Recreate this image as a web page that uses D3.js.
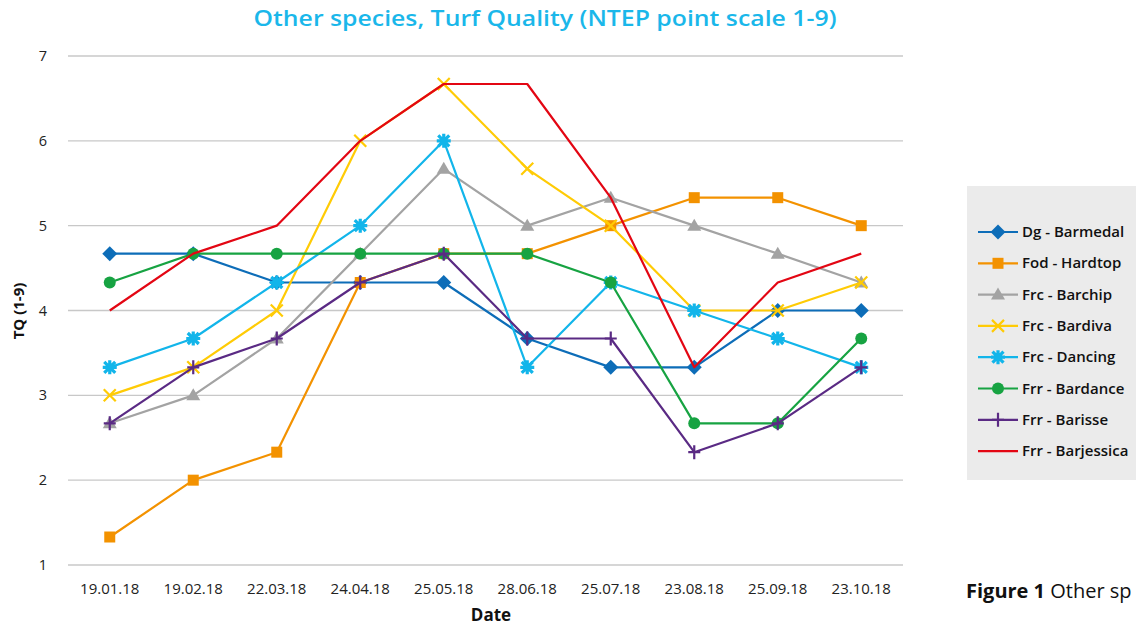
<!DOCTYPE html>
<html><head><meta charset="utf-8">
<script src="https://cdn.jsdelivr.net/npm/d3@7"></script>
<style>body{margin:0;background:#fff;}svg{display:block;font-family:"Open Sans",Lato,sans-serif;}</style>
</head><body>
<svg id="c" width="1136" height="629"></svg>
<script>
const categories = ["19.01.18","19.02.18","22.03.18","24.04.18","25.05.18","28.06.18","25.07.18","23.08.18","25.09.18","23.10.18"];
const seriesNames = ["Dg - Barmedal","Fod - Hardtop","Frc - Barchip","Frc - Bardiva","Frc - Dancing","Frr - Bardance","Frr - Barisse","Frr - Barjessica"];
const dgBarmedal   = [4.67,4.67,4.33,4.33,4.33,3.67,3.33,3.33,4.00,4.00];
const fodHardtop   = [1.33,2.00,2.33,4.33,4.67,4.67,5.00,5.33,5.33,5.00];
const frcBarchip   = [2.67,3.00,3.67,4.67,5.67,5.00,5.33,5.00,4.67,4.33];
const frcBardiva   = [3.00,3.33,4.00,6.00,6.67,5.67,5.00,4.00,4.00,4.33];
const frcDancing   = [3.33,3.67,4.33,5.00,6.00,3.33,4.33,4.00,3.67,3.33];
const frrBardance  = [4.33,4.67,4.67,4.67,4.67,4.67,4.33,2.67,2.67,3.67];
const frrBarisse   = [2.67,3.33,3.67,4.33,4.67,3.67,3.67,2.33,2.67,3.33];
const frrBarjessica= [4.00,4.67,5.00,6.00,6.67,6.67,5.33,3.33,4.33,4.67];
const yTicks = [1,2,3,4,5,6,7];

const values = [dgBarmedal,fodHardtop,frcBarchip,frcBardiva,frcDancing,frrBardance,frrBarisse,frrBarjessica];
const colors = ["#0d6db8","#f39200","#a3a3a3","#ffcb05","#12b5ea","#17a342","#5a2a84","#e30613"];
const markers = ["diamond","square","triangle","x","star","circle","plus","none"];

const svg = d3.select("#c");
const m = {l:68, r:903, t:56, b:565};
const x = d3.scaleBand().domain(categories).range([m.l,m.r]).padding(0);
const y = d3.scaleLinear().domain([1,7]).range([m.b,m.t]);

// title
svg.append("text").attr("x",545).attr("y",26).attr("text-anchor","middle")
  .attr("font-size",22).attr("font-weight","600").attr("fill","#1ab7ea")
  .attr("textLength",583).attr("lengthAdjust","spacingAndGlyphs")
  .text("Other species, Turf Quality (NTEP point scale 1-9)");

// gridlines
svg.append("g").selectAll("line").data(yTicks).join("line")
  .attr("x1",m.l).attr("x2",m.r).attr("y1",d=>y(d)).attr("y2",d=>y(d))
  .attr("stroke","#c8c8c8").attr("stroke-width",1.3);

// y tick labels
svg.append("g").selectAll("text").data(yTicks).join("text")
  .attr("x",47).attr("y",d=>y(d)+5).attr("text-anchor","end")
  .attr("font-size",14.5).attr("fill","#222").text(d=>d);

// x tick labels
svg.append("g").selectAll("text").data(categories).join("text")
  .attr("x",d=>x(d)+x.bandwidth()/2).attr("y",594).attr("text-anchor","middle")
  .attr("font-size",15).attr("fill","#222").text(d=>d);

svg.append("text").attr("x",491).attr("y",621).attr("text-anchor","middle")
  .attr("font-size",17).attr("font-weight","bold").attr("fill","#111").text("Date");
svg.append("text").attr("transform","translate(24,311) rotate(-90)").attr("text-anchor","middle")
  .attr("font-size",15).attr("font-weight","bold").attr("fill","#111").text("TQ (1-9)");

const line = d3.line().x((d,i)=>x(categories[i])+x.bandwidth()/2).y(d=>y(d));

function drawMarker(g, type, cx, cy, color){
  if(type==="diamond"){
    g.append("path").attr("d",`M${cx},${cy-7.5}L${cx+7.5},${cy}L${cx},${cy+7.5}L${cx-7.5},${cy}Z`).attr("fill",color);
  } else if(type==="square"){
    g.append("rect").attr("x",cx-5.5).attr("y",cy-5.5).attr("width",11).attr("height",11).attr("fill",color);
  } else if(type==="triangle"){
    g.append("path").attr("d",`M${cx},${cy-7}L${cx+7},${cy+5}L${cx-7},${cy+5}Z`).attr("fill",color);
  } else if(type==="x"){
    g.append("path").attr("d",`M${cx-6},${cy-6}L${cx+6},${cy+6}M${cx-6},${cy+6}L${cx+6},${cy-6}`).attr("stroke",color).attr("stroke-width",2.2);
  } else if(type==="star"){
    g.append("path").attr("d",`M${cx-5.5},${cy-5.5}L${cx+5.5},${cy+5.5}M${cx-5.5},${cy+5.5}L${cx+5.5},${cy-5.5}M${cx},${cy-7}L${cx},${cy+7}M${cx-7},${cy}L${cx+7},${cy}`).attr("stroke",color).attr("stroke-width",3.2);
  } else if(type==="circle"){
    g.append("circle").attr("cx",cx).attr("cy",cy).attr("r",6).attr("fill",color);
  } else if(type==="plus"){
    g.append("path").attr("d",`M${cx},${cy-7}L${cx},${cy+7}M${cx-6},${cy}L${cx+6},${cy}`).attr("stroke",color).attr("stroke-width",2.2);
  }
}

values.forEach((vals,si)=>{
  const g = svg.append("g");
  g.append("path").datum(vals).attr("d",line).attr("fill","none")
    .attr("stroke",colors[si]).attr("stroke-width",2.2).attr("stroke-linejoin","round");
  vals.forEach((v,i)=>drawMarker(g,markers[si],x(categories[i])+x.bandwidth()/2,y(v),colors[si]));
});

// legend
const lg = svg.append("g");
lg.append("rect").attr("x",967).attr("y",186).attr("width",175).attr("height",294).attr("fill","#ebebeb");
seriesNames.forEach((n,i)=>{
  const ly = 232 + i*31.3;
  lg.append("line").attr("x1",978).attr("x2",1018).attr("y1",ly).attr("y2",ly).attr("stroke",colors[i]).attr("stroke-width",2.2);
  drawMarker(lg,markers[i],998,ly,colors[i]);
  lg.append("text").attr("x",1022).attr("y",ly+5).attr("font-size",15).attr("font-weight","600").attr("fill","#111").text(n);
});

svg.append("text").attr("x",966).attr("y",598).attr("font-size",20).attr("fill","#111")
  .html('<tspan font-weight="bold">Figure 1</tspan> Other sp');
</script>
</body></html>
